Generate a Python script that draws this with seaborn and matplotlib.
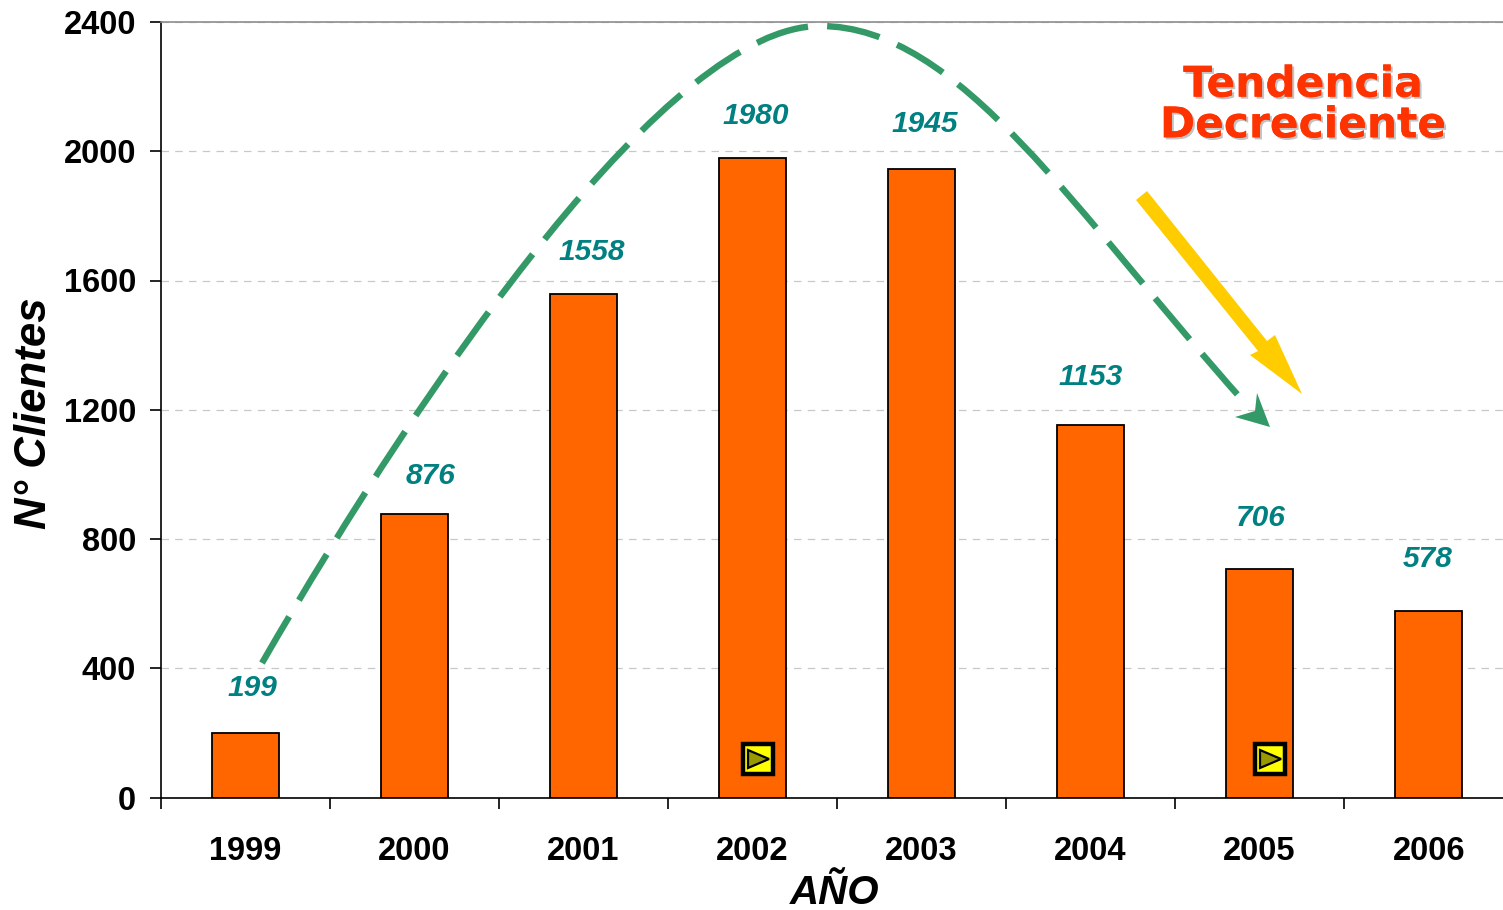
import matplotlib
matplotlib.use("Agg")
import matplotlib.pyplot as plt
import matplotlib.patheffects as pe
from matplotlib.path import Path
from matplotlib.patches import PathPatch, Polygon, Rectangle
import seaborn as sns
import pandas as pd

years = ["1999", "2000", "2001", "2002", "2003", "2004", "2005", "2006"]
clientes = [199, 876, 1558, 1980, 1945, 1153, 706, 578]

# label placement relative to each bar top, in pixels
label_dx = [7, 16, 8, 3, 3, 0, 1, -1]
label_dy = [45, 38, 42, 42, 45, 48, 51, 52]

sns.set_style("white")
plt.rcParams["font.family"] = ["Liberation Sans", "DejaVu Sans"]

W, H = 1503, 910
fig = plt.figure(figsize=(W / 100, H / 100), dpi=100)
ax = fig.add_axes([161 / W, 1 - 797.5 / H, (1503 - 161) / W, (797.5 - 22) / H])

df = pd.DataFrame({"year": years, "clientes": clientes})
sns.barplot(data=df, x="year", y="clientes", color="#FF6600", saturation=1, width=0.4,
            edgecolor="black", linewidth=1.3, ax=ax, zorder=3)
ax.set_yticks(range(0, 2401, 400))
ax.yaxis.grid(True, color="#C8C8C8", linestyle=(0, (6, 5)), linewidth=0.9)
ax.set_axisbelow(True)
ax.spines["right"].set_visible(False)
ax.spines["top"].set_linewidth(1.2)
ax.spines["top"].set_color("#8C8C8C")
for s in ("left", "bottom"):
    ax.spines[s].set_linewidth(1.2)
    ax.spines[s].set_color("black")

ax.tick_params(axis="y", length=8, width=1.2, labelsize=23.5, pad=10, left=True, color="black", labelcolor="black")
ax.tick_params(axis="x", which="major", length=0, labelsize=23.5, pad=28, labelcolor="black")
ax.set_xticks([i + 0.5 for i in range(-1, 7)], minor=True)
ax.tick_params(axis="x", which="minor", length=8, width=1.2, bottom=True, color="black")
ax.set_xlim(-0.5, 7.44)
ax.set_ylim(0, 2400)
for t in ax.get_xticklabels() + ax.get_yticklabels():
    t.set_fontweight("bold")

ax.set_xlabel("")
ax.set_ylabel("")

for i, v in enumerate(clientes):
    ax.annotate(str(v), (i, v), xytext=(label_dx[i], label_dy[i]), textcoords="offset pixels", ha="center",
                va="center", color="#008080", fontsize=21.5, fontweight="bold", fontstyle="italic")

# overlay drawn in reference pixel coordinates
ov = fig.add_axes([0, 0, 1, 1], facecolor="none")
ov.set_xlim(0, W)
ov.set_ylim(H, 0)
ov.axis("off")

ov.text(835, 893, "AÑO", ha="center", va="center", color="black", fontsize=29, fontweight="bold", fontstyle="italic")
ov.text(35, 413, "N° Clientes", ha="center", va="center", rotation=90, color="black", fontsize=31.5,
        fontweight="bold", fontstyle="italic")

GREEN = "#339966"
curve = Path([(262, 663), (430, 372), (670, 26), (820, 26), (960, 26), (1075, 213), (1245, 403)],
             [Path.MOVETO, Path.CURVE4, Path.CURVE4, Path.CURVE4, Path.CURVE4, Path.CURVE4, Path.CURVE4])
ov.add_patch(PathPatch(curve, fill=False, edgecolor=GREEN, linewidth=4.6, capstyle="butt",
                       linestyle=(0, (8.4, 3))))
ov.add_patch(Polygon([(1257, 393), (1270, 427), (1235, 417), (1255, 411)], closed=True, facecolor=GREEN, edgecolor="none"))

ov.add_patch(Polygon([(1147, 191), (1136, 200), (1258, 351), (1250, 355), (1302, 394), (1275, 335), (1267, 341)],
                     closed=True, facecolor="#FFCC00", edgecolor="none"))

ov.text(1303, 105, "Tendencia\nDecreciente", ha="center", va="center", family="DejaVu Sans", fontweight="bold",
        fontsize=30.5, color="#FF3300", linespacing=0.96,
        path_effects=[pe.withSimplePatchShadow(offset=(1.5, -1.5), shadow_rgbFace="#AAAAAA", alpha=0.7), pe.Normal()])

for cx in (758, 1270):
    ov.add_patch(Rectangle((cx - 15, 744), 30, 30, facecolor="#FFFF00", edgecolor="black", linewidth=3.2))
    ov.add_patch(Polygon([(cx - 10, 750), (cx + 11, 759), (cx - 10, 768)], closed=True, facecolor="#999900",
                         edgecolor="black", linewidth=1.6))

fig.savefig("out.png", dpi=100)
